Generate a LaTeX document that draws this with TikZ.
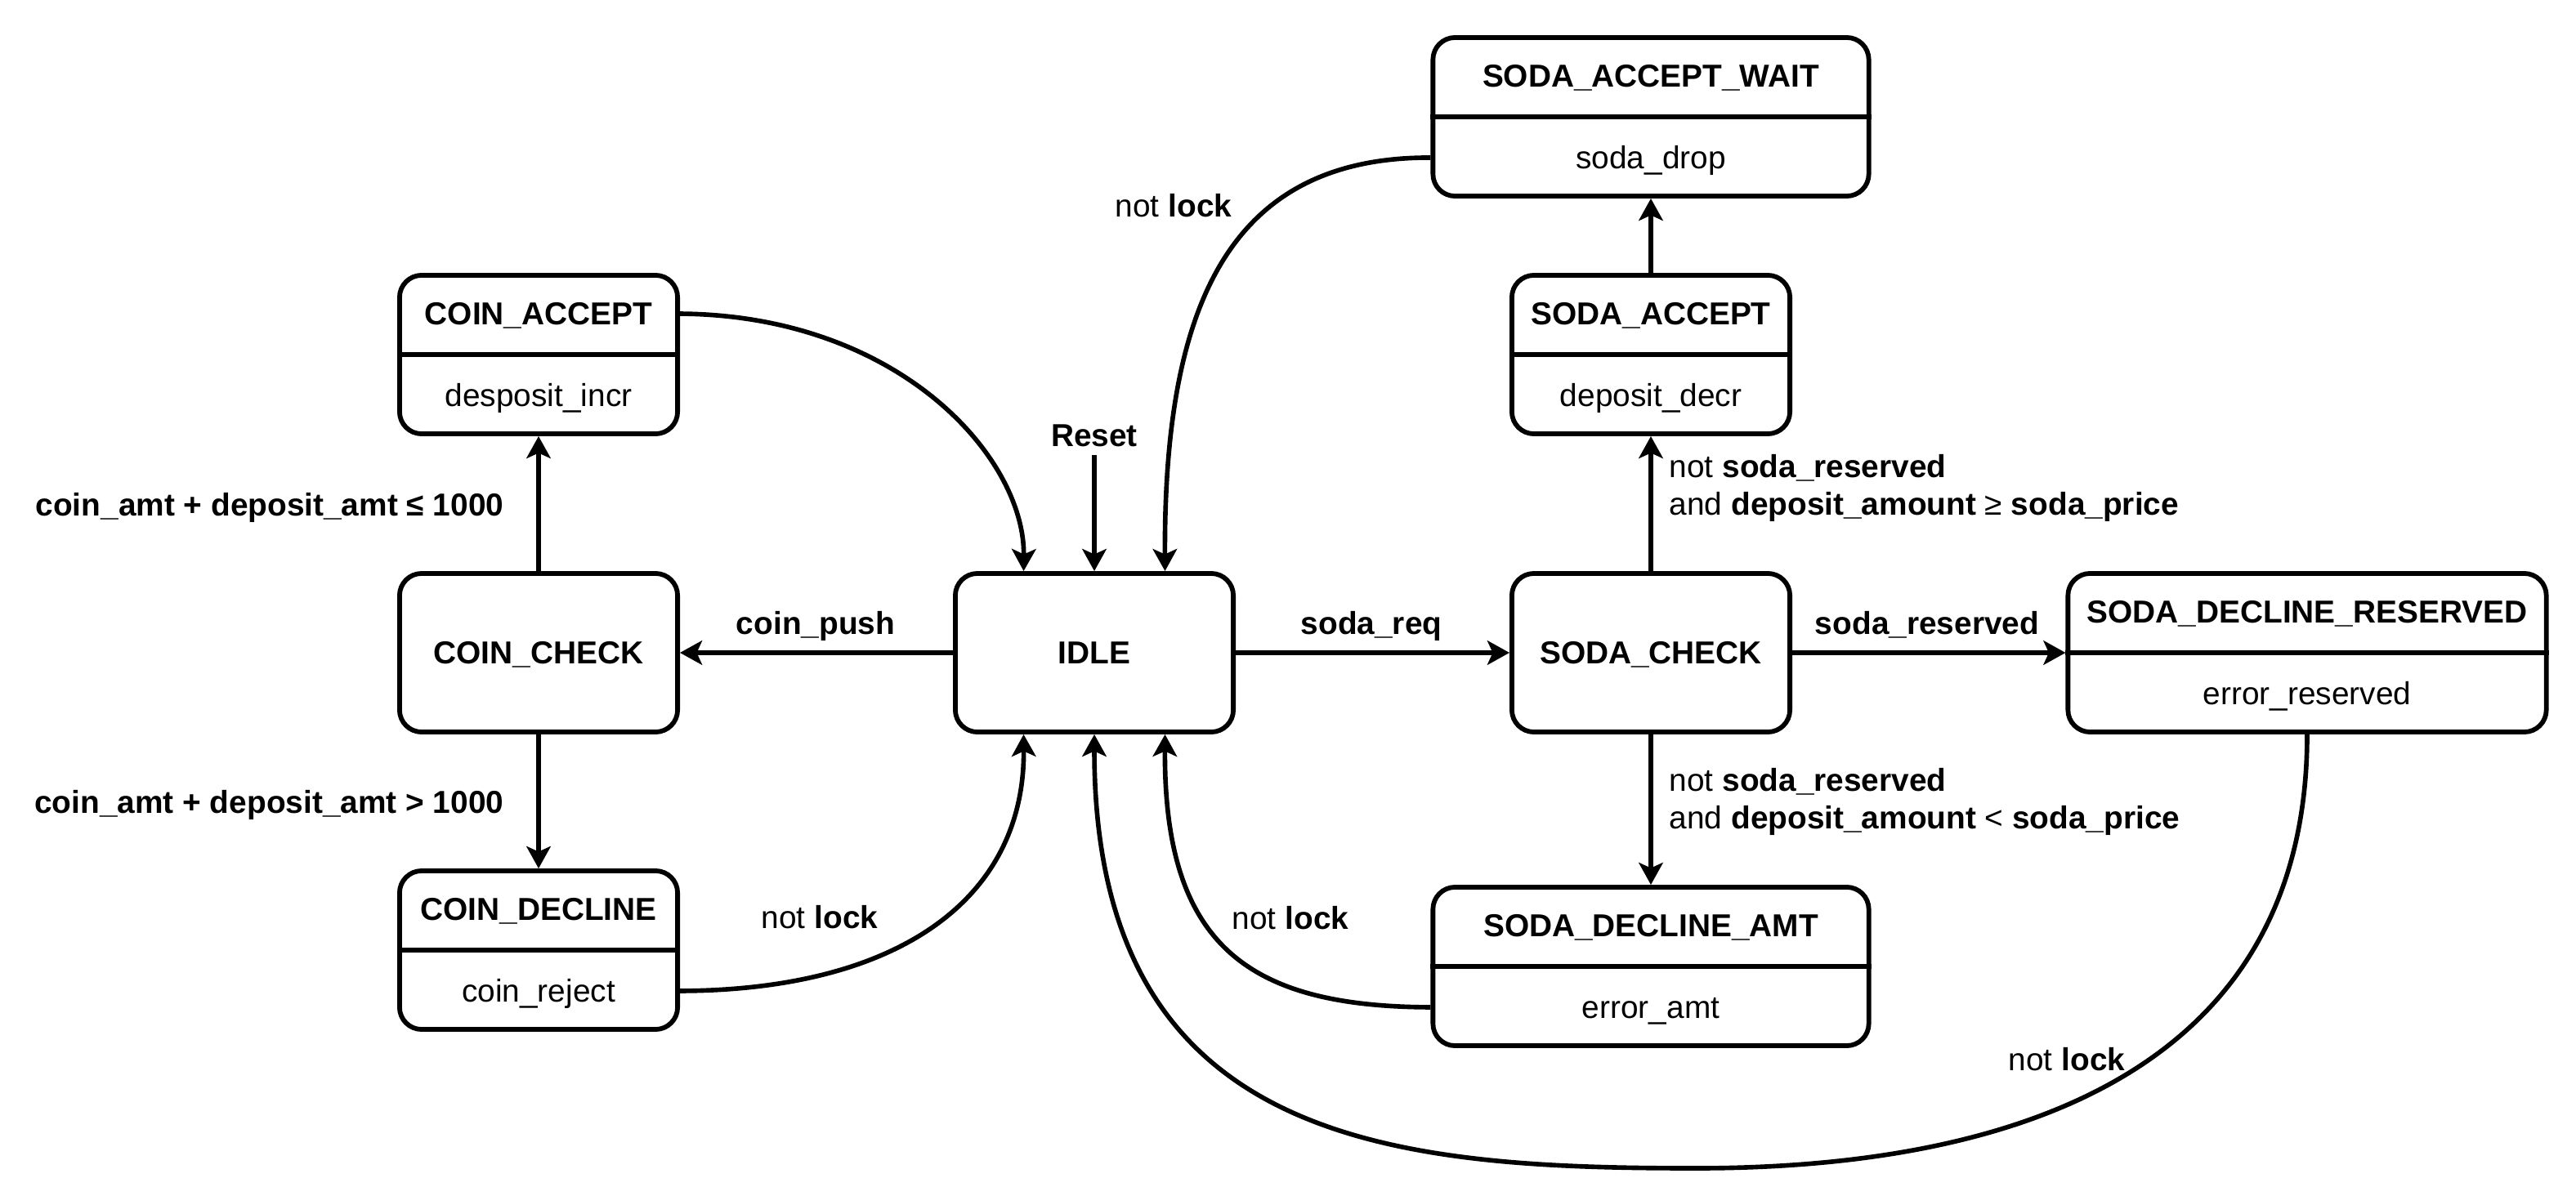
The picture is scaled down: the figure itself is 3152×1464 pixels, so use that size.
\documentclass[tikz,border=0pt]{standalone}
\usepackage{fontspec}
\setmainfont{Liberation Sans}
\usetikzlibrary{arrows.meta,calc}
\newcommand{\dfont}{\fontsize{11.04pt}{13.1pt}\selectfont}
\tikzset{
  box/.style={draw, line width=1.65pt, rounded corners=0.27cm, minimum height=1.94cm, inner sep=0pt, fill=white, font=\dfont\bfseries, text height=0.349cm, text depth=0.078cm},
  boxS/.style={box, minimum width=3.40cm},
  boxM/.style={box, minimum width=5.33cm},
  boxL/.style={box, minimum width=5.85cm},
  ttl/.style={inner sep=0pt, font=\dfont\bfseries, text height=0.349cm, text depth=0.078cm},
  act/.style={inner sep=0pt, font=\dfont, text height=0.349cm, text depth=0.078cm},
  lbl/.style={inner sep=0pt, font=\dfont},
  blbl/.style={inner sep=0pt, font=\dfont\bfseries},
  arr/.style={line width=1.6pt, -{Stealth[length=0.27cm, width=0.295cm, inset=0.065cm]}},
  divline/.style={line width=1.65pt},
}
\begin{document}
\begin{tikzpicture}[x=0.01cm, y=-0.01cm]
\fill[white] (0,0) rectangle (3152,1464);
\useasboundingbox (0,0) rectangle (3152,1464);

% states
\node[boxS] (ca) at (659,434) {};
\node[ttl] (ca-t) at ($(ca.center)!0.5!(ca.north)$) {COIN\_ACCEPT};
\node[act] (ca-a) at ($(ca.center)!0.5!(ca.south)$) {desposit\_incr};
\draw[divline] (ca.west) -- (ca.east);

\node[boxS] (cc) at (659,799) {COIN\_CHECK};

\node[boxS] (cd) at (659,1163) {};
\node[ttl] (cd-t) at ($(cd.center)!0.5!(cd.north)$) {COIN\_DECLINE};
\node[act] (cd-a) at ($(cd.center)!0.5!(cd.south)$) {coin\_reject};
\draw[divline] (cd.west) -- (cd.east);

\node[boxS] (idle) at (1339,799) {IDLE};

\node[boxM] (saw) at (2020,143) {};
\node[ttl] (saw-t) at ($(saw.center)!0.5!(saw.north)$) {SODA\_ACCEPT\_WAIT};
\node[act] (saw-a) at ($(saw.center)!0.5!(saw.south)$) {soda\_drop};
\draw[divline] (saw.west) -- (saw.east);

\node[boxS] (sa) at (2020,434) {};
\node[ttl] (sa-t) at ($(sa.center)!0.5!(sa.north)$) {SODA\_ACCEPT};
\node[act] (sa-a) at ($(sa.center)!0.5!(sa.south)$) {deposit\_decr};
\draw[divline] (sa.west) -- (sa.east);

\node[boxS] (sc) at (2020,799) {SODA\_CHECK};

\node[boxL] (sdr) at (2823,799) {};
\node[ttl] (sdr-t) at ($(sdr.center)!0.5!(sdr.north)$) {SODA\_DECLINE\_RESERVED};
\node[act] (sdr-a) at ($(sdr.center)!0.5!(sdr.south)$) {error\_reserved};
\draw[divline] (sdr.west) -- (sdr.east);

\node[boxM] (sda) at (2020,1183) {};
\node[ttl] (sda-t) at ($(sda.center)!0.5!(sda.north)$) {SODA\_DECLINE\_AMT};
\node[act] (sda-a) at ($(sda.center)!0.5!(sda.south)$) {error\_amt};
\draw[divline] (sda.west) -- (sda.east);

\node[blbl, inner sep=0.1cm, anchor=base] (reset) at (1339,546) {Reset};

\coordinate (idle-tl) at ($(idle.north west)!0.25!(idle.north east)$);
\coordinate (idle-tr) at ($(idle.north west)!0.75!(idle.north east)$);
\coordinate (idle-bl) at ($(idle.south west)!0.25!(idle.south east)$);
\coordinate (idle-br) at ($(idle.south west)!0.75!(idle.south east)$);

% transitions
\draw[arr] (idle) -- (cc);
\draw[arr] (cc) -- (ca);
\draw[arr] (cc) -- (cd);
\draw[arr] (idle) -- (sc);
\draw[arr] (sc) -- (sa);
\draw[arr] (sa) -- (saw);
\draw[arr] (sc) -- (sdr);
\draw[arr] (sc) -- (sda);
\draw[arr] (reset.south) -- (idle.north);
\draw[arr] (ca.east |- ca-t) .. controls (1100,386) and (1254,560) .. (idle-tl);
\draw[arr] (saw.west |- saw-a) .. controls (1500,192) and (1424,380) .. (idle-tr);
\draw[arr] (cd.east |- cd-a) .. controls (1100,1212) and (1254,1100) .. (idle-bl);
\draw[arr] (sda.west |- sda-a) .. controls (1530,1232) and (1424,1160) .. (idle-br);
\draw[arr] (sdr.south) .. controls (2823,1320) and (2450,1430) .. (2075,1430) .. controls (1700,1430) and (1339,1400) .. (idle.south);

% labels
\node[blbl, anchor=base] (l-push) at (998,776) {coin\_push};
\node[blbl, anchor=base] (l-req) at (1678,776) {soda\_req};
\node[blbl, anchor=base] (l-res) at (2358,776) {soda\_reserved};
\node[blbl, anchor=base east] (l-le) at (617,631) {coin\_amt + deposit\_amt ≤ 1000};
\node[blbl, anchor=base east] (l-gt) at (617,995) {coin\_amt + deposit\_amt > 1000};
\node[lbl, align=left, anchor=north west] (l-ge) at (2042,549) {\rule{0pt}{0.349cm}not \textbf{soda\_reserved}\\and \textbf{deposit\_amount} ≥ \textbf{soda\_price}};
\node[lbl, align=left, anchor=north west] (l-lt) at (2042,933) {\rule{0pt}{0.349cm}not \textbf{soda\_reserved}\\and \textbf{deposit\_amount} < \textbf{soda\_price}};
\node[lbl, anchor=base] (l-lk1) at (1436,266) {not \textbf{lock}};
\node[lbl, anchor=base] (l-lk2) at (1003,1136) {not \textbf{lock}};
\node[lbl, anchor=base] (l-lk3) at (1579,1137) {not \textbf{lock}};
\node[lbl, anchor=base] (l-lk4) at (2529,1310) {not \textbf{lock}};
\end{tikzpicture}
\end{document}
